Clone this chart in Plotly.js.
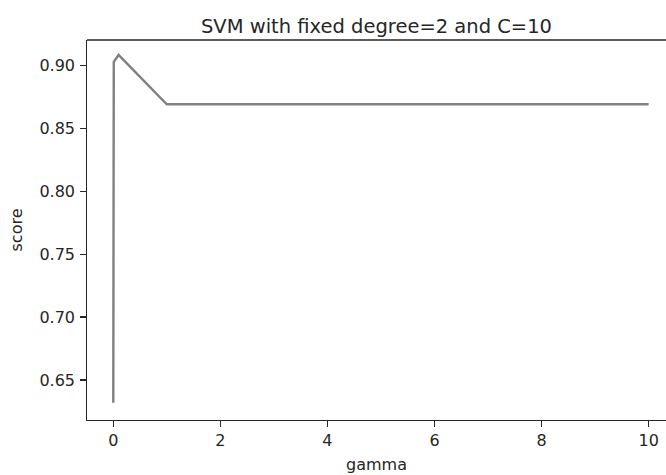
<!DOCTYPE html>
<html>
<head>
<meta charset="utf-8">
<script src="https://cdn.plot.ly/plotly-3.0.1.min.js"></script>
<style>
html,body{margin:0;padding:0;background:#fff;overflow:hidden;}
#chart{width:666px;height:475px;}
</style>
</head>
<body>
<div id="chart"></div>
<script>
const gamma = [0.001, 0.01, 0.1, 1, 10];
const score = [0.632, 0.903, 0.9085, 0.8693, 0.8693];
const xTicks = [0, 2, 4, 6, 8, 10];
const yTicks = [0.65, 0.70, 0.75, 0.80, 0.85, 0.90];
const yTickText = ["0.65", "0.70", "0.75", "0.80", "0.85", "0.90"];

const font = "DejaVu Sans, sans-serif";
const trace = {
  x: gamma, y: score, type: "scatter", mode: "lines",
  line: {color: "#808080", width: 2.4},
  hoverinfo: "skip"
};
const layout = {
  width: 666, height: 475,
  margin: {l: 87, r: 0, t: 40, b: 55},
  paper_bgcolor: "#ffffff", plot_bgcolor: "#ffffff",
  showlegend: false,
  font: {family: font, size: 16, color: "#262626"},
  title: {
    text: "SVM with fixed degree=2 and C=10",
    font: {family: font, size: 19.5, color: "#262626"},
    xref: "paper", x: 0.5, xanchor: "center",
    yref: "paper", y: 1, yanchor: "bottom", pad: {b: 7}
  },
  xaxis: {
    range: [-0.49, 10.324],
    tickvals: xTicks, ticktext: xTicks.map(String),
    ticks: "outside", ticklen: 5.5, tickwidth: 1.3, tickcolor: "#262626",
    showgrid: false, zeroline: false,
    showline: true, linecolor: "#262626", linewidth: 1.3, mirror: false,
    tickfont: {family: font, size: 16, color: "#262626"},
    title: {text: "gamma", font: {family: font, size: 16, color: "#262626"}, standoff: 9}
  },
  yaxis: {
    range: [0.6182, 0.9204],
    tickvals: yTicks, ticktext: yTickText,
    ticks: "outside", ticklen: 5.5, tickwidth: 1.3, tickcolor: "#262626",
    ticklabelstandoff: 2,
    showgrid: false, zeroline: false,
    showline: true, linecolor: "#262626", linewidth: 1.3, mirror: false,
    tickfont: {family: font, size: 16, color: "#262626"},
    title: {text: "score", font: {family: font, size: 16, color: "#262626"}, standoff: 12}
  },
  shapes: [{
    type: "line", xref: "paper", yref: "paper", x0: 0, x1: 1, y0: 1, y1: 1,
    line: {color: "#262626", width: 1.3}
  }]
};
Plotly.newPlot("chart", [trace], layout, {staticPlot: true, displayModeBar: false});
</script>
</body>
</html>
